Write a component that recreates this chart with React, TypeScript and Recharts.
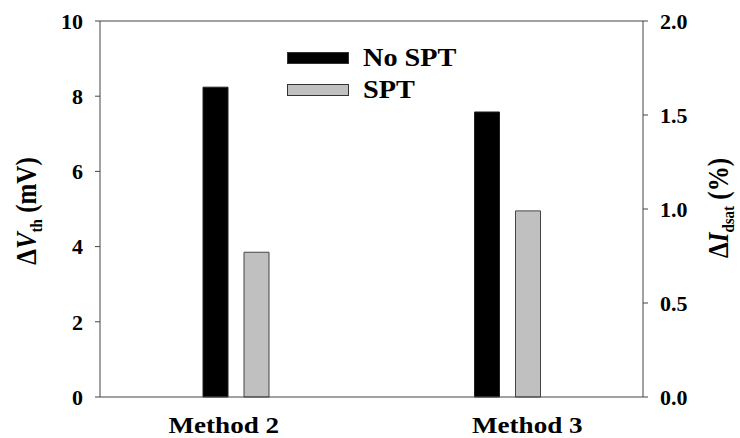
import React from "react";
import { Bar, ComposedChart, Legend, Line, ReferenceLine, XAxis, YAxis } from "recharts";

const categories = ["Method 2", "Method 3"];
const noSptValues = [8.24, 7.58];
const sptValues = [3.85, 4.95];
const leftTicks = [0, 2, 4, 6, 8, 10];
const rightTicks = [0, 0.5, 1.0, 1.5, 2.0];

const data = categories.map((name, i) => ({
  name,
  noSpt: noSptValues[i],
  spt: sptValues[i],
}));

const FONT = "'Liberation Serif', 'Times New Roman', serif";
const AXIS = "#444";
// the original figure is slightly stretched sideways
const STRETCH = 1.13;

// the category labels in the original sit a little off the bar groups
const labelShift: Record<string, number> = { "Method 2": -12, "Method 3": 20 };

function CategoryTick(props: any) {
  const { x, y, payload } = props;
  const tx = x + (labelShift[payload.value] || 0);
  const ty = y + 36;
  return (
    <text
      transform={`translate(${tx}, ${ty}) scale(${STRETCH}, 1)`}
      textAnchor="middle"
      fontFamily={FONT}
      fontWeight="bold"
      fontSize={24}
      fill="#000"
    >
      {payload.value}
    </text>
  );
}

function AxisTitle({ cx, cy, main, sub, unit }: any) {
  return (
    <text
      transform={`translate(${cx}, ${cy}) scale(1.15, 1) rotate(-90)`}
      textAnchor="middle"
      fontFamily={FONT}
      fontWeight="bold"
      fontSize={25}
      fill="#000"
    >
      <tspan>Δ</tspan>
      <tspan fontStyle="italic">{main}</tspan>
      <tspan fontSize={15} dy={5}>{sub}</tspan>
      <tspan dy={-5}>{unit}</tspan>
    </text>
  );
}

function LeftLabel(props: any) {
  const { viewBox } = props;
  return <AxisTitle cx={viewBox.x + 36} cy={211} main="V" sub="th" unit=" (mV)" />;
}

function RightLabel(props: any) {
  const { viewBox } = props;
  return <AxisTitle cx={viewBox.x + 85} cy={208} main="I" sub="dsat" unit=" (%)" />;
}

function LegendBox(props: any) {
  const { payload } = props;
  const items = (payload || []).filter((item: any) => item.type !== "none");
  return (
    <div style={{ fontFamily: FONT, fontWeight: "bold", fontSize: 25 }}>
      {items.map((item: any) => (
        <div key={item.value} style={{ display: "flex", alignItems: "center", height: 32 }}>
          <div
            style={{
              width: 60,
              height: 10,
              background: item.color,
              border: "1px solid #333",
            }}
          />
          <span
            style={{
              marginLeft: 14,
              color: "#000",
              display: "inline-block",
              transform: `scaleX(${STRETCH})`,
              transformOrigin: "left center",
            }}
          >
            {item.value}
          </span>
        </div>
      ))}
    </div>
  );
}

export default function App() {
  return (
    <div style={{ position: "absolute", left: 0, top: 0, background: "#fff" }}>
      <ComposedChart
        width={740}
        height={438}
        data={data}
        margin={{ top: 21, right: 0, bottom: 0, left: 0 }}
        barSize={25}
        barGap={16}
      >
        <XAxis
          dataKey="name"
          height={41}
          stroke={AXIS}
          tickLine={false}
          tickSize={0}
          tickMargin={0}
          tick={<CategoryTick />}
        />
        <YAxis
          yAxisId="left"
          width={100}
          domain={[0, 10]}
          ticks={leftTicks}
          stroke={AXIS}
          tickSize={5}
          tickMargin={12}
          tick={{ fill: "#000", fontFamily: FONT, fontWeight: "bold", fontSize: 22 }}
          label={<LeftLabel />}
        />
        <YAxis
          yAxisId="right"
          orientation="right"
          type="number"
          width={97}
          domain={[0, 2]}
          allowDataOverflow
          ticks={rightTicks}
          stroke={AXIS}
          tickSize={5}
          tickMargin={12}
          tickFormatter={(v: number) => v.toFixed(1)}
          tick={{ fill: "#000", fontFamily: FONT, fontWeight: "bold", fontSize: 22 }}
          label={<RightLabel />}
        />
        <ReferenceLine yAxisId="left" y={10} stroke={AXIS} />
        <Legend
          content={<LegendBox />}
          verticalAlign="middle"
          align="center"
          wrapperStyle={{ left: 287, top: 42, width: "auto" }}
        />
        <Bar yAxisId="left" dataKey="noSpt" name="No SPT" fill="#000" stroke="#222" strokeWidth={1} isAnimationActive={false} />
        <Bar yAxisId="left" dataKey="spt" name="SPT" fill="#c0c0c0" stroke="#444" strokeWidth={1} isAnimationActive={false} />
        {/* carries the right-hand axis; draws nothing */}
        <Line yAxisId="right" dataKey="rightScale" stroke="none" dot={false} legendType="none" isAnimationActive={false} />
      </ComposedChart>
    </div>
  );
}
